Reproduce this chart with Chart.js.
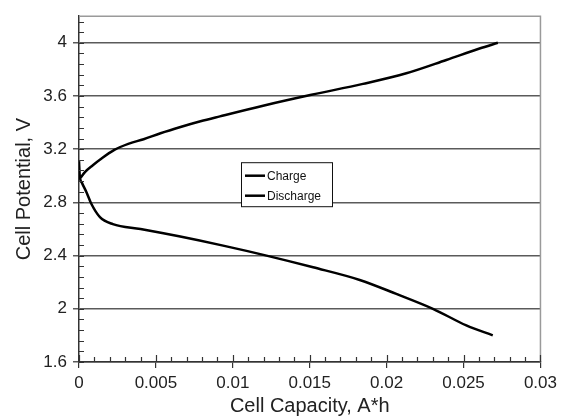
<!DOCTYPE html>
<html>
<head>
<meta charset="utf-8">
<script src="https://cdn.jsdelivr.net/npm/chart.js@4.4.1/dist/chart.umd.min.js"></script>
<style>
  html, body { margin: 0; padding: 0; background: #ffffff; }
  #wrap { width: 562px; height: 418px; }
</style>
</head>
<body>
<div id="wrap"><canvas id="cv" width="562" height="418"></canvas></div>
<script>
// Charge curve: capacity (A*h) and cell potential (V)
const chargeCapacity = [0.0001, 0.0004, 0.0009, 0.0014, 0.0023, 0.0032, 0.0042, 0.0053, 0.0066, 0.0079, 0.00916, 0.01197, 0.01511, 0.01846, 0.02128, 0.02388, 0.02604, 0.02723];
const chargeVoltage  = [2.985, 3.03, 3.08, 3.125, 3.195, 3.24, 3.275, 3.32, 3.367, 3.41, 3.447, 3.527, 3.609, 3.691, 3.771, 3.871, 3.957, 4.0];

// Discharge curve: capacity (A*h) and cell potential (V)
const dischargeCapacity = [0, 0.00005, 0.0002, 0.0005, 0.0008, 0.00136, 0.0022, 0.004, 0.0065, 0.00937, 0.01219, 0.01522, 0.01825, 0.02063, 0.02301, 0.02518, 0.0269];
const dischargeVoltage  = [3.11, 3.0, 2.945, 2.873, 2.79, 2.69, 2.637, 2.60, 2.545, 2.475, 2.40, 2.312, 2.217, 2.112, 2.0, 1.875, 1.80];

// Axis tick labels
const xTicks = [0, 0.005, 0.01, 0.015, 0.02, 0.025, 0.03];
const yTicks = [1.6, 2, 2.4, 2.8, 3.2, 3.6, 4];

const FONT = '"Liberation Sans", Arial, Helvetica, sans-serif';

function toPoints(xs, ys) {
  return xs.map((x, i) => ({ x: x, y: ys[i] }));
}

// Inner minor/major tick marks, top/right frame and the boxed legend
const framePlugin = {
  id: 'frame',
  afterDraw(chart) {
    const ctx = chart.ctx;
    const a = chart.chartArea;
    const xs = chart.scales.x;
    const ys = chart.scales.y;
    ctx.save();
    // light top and right frame
    ctx.strokeStyle = '#9a9a9a';
    ctx.lineWidth = 1.5;
    ctx.beginPath();
    ctx.moveTo(a.left, a.top);
    ctx.lineTo(a.right, a.top);
    ctx.lineTo(a.right, a.bottom);
    ctx.stroke();

    // minor ticks on the y axis every 0.08 V, pointing inward
    ctx.strokeStyle = '#333';
    ctx.lineWidth = 1.2;
    ctx.beginPath();
    for (let k = 0; k <= 32; k++) {
      const v = 1.6 + k * 0.08;
      const py = Math.round(ys.getPixelForValue(v)) + 0.5;
      ctx.moveTo(a.left, py);
      ctx.lineTo(a.left + 5, py);
    }
    // ticks on the x axis every 0.001, major ones a little longer
    for (let k = 0; k <= 30; k++) {
      const v = k * 0.001;
      const px = Math.round(xs.getPixelForValue(v)) + 0.5;
      ctx.moveTo(px, a.bottom);
      ctx.lineTo(px, a.bottom - (k % 5 === 0 ? 7 : 5));
    }
    ctx.stroke();

    // legend box
    const lx = a.left + 162, ly = a.top + 146, lw = 91, lh = 44;
    ctx.fillStyle = '#ffffff';
    ctx.fillRect(lx, ly, lw, lh);
    ctx.strokeStyle = '#111';
    ctx.lineWidth = 1;
    ctx.strokeRect(lx + 0.5, ly + 0.5, lw, lh);
    ctx.font = '12px ' + FONT;
    ctx.textBaseline = 'middle';
    ctx.textAlign = 'left';
    chart.data.datasets.forEach((ds, i) => {
      const ry = ly + 13.5 + i * 20;
      ctx.strokeStyle = ds.borderColor;
      ctx.lineWidth = 2.5;
      ctx.beginPath();
      ctx.moveTo(lx + 4, ry);
      ctx.lineTo(lx + 24, ry);
      ctx.stroke();
      ctx.fillStyle = '#111';
      ctx.fillText(ds.label, lx + 26, ry + 1);
    });
    ctx.restore();
  }
};

new Chart(document.getElementById('cv'), {
  type: 'scatter',
  data: {
    datasets: [
      {
        label: 'Charge',
        data: toPoints(chargeCapacity, chargeVoltage),
        showLine: true,
        borderColor: '#000000',
        borderWidth: 2.5,
        pointRadius: 0,
        cubicInterpolationMode: 'monotone'
      },
      {
        label: 'Discharge',
        data: toPoints(dischargeCapacity, dischargeVoltage),
        showLine: true,
        borderColor: '#000000',
        borderWidth: 2.5,
        pointRadius: 0,
        cubicInterpolationMode: 'monotone'
      }
    ]
  },
  options: {
    responsive: false,
    animation: false,
    layout: { padding: { top: 14, right: 21, left: 0, bottom: 0 } },
    plugins: {
      legend: { display: false },
      tooltip: { enabled: false }
    },
    scales: {
      x: {
        type: 'linear',
        min: 0,
        max: 0.03,
        afterFit(scale) { scale.height = 56; },
        afterBuildTicks(scale) { scale.ticks = xTicks.map(v => ({ value: v })); },
        border: { display: true, color: '#333', width: 1.5 },
        grid: { drawOnChartArea: false, drawTicks: true, tickLength: 6, color: '#333', lineWidth: 1.2 },
        ticks: {
          color: '#222',
          font: { family: FONT, size: 17 },
          padding: 5,
          maxRotation: 0,
          callback: v => String(Number(v.toFixed(4)))
        },
        title: {
          display: true,
          text: 'Cell Capacity, A*h',
          color: '#222',
          font: { family: FONT, size: 20, lineHeight: 1.15 },
          padding: { top: 0, bottom: 0 }
        }
      },
      y: {
        type: 'linear',
        min: 1.6,
        max: 4.2,
        afterFit(scale) { scale.width = 79; },
        afterBuildTicks(scale) { scale.ticks = yTicks.map(v => ({ value: v })); },
        border: { display: true, color: '#333', width: 1.5 },
        grid: { drawOnChartArea: true, drawTicks: true, tickLength: 6, color: '#5a5a5a', lineWidth: 1.5 },
        ticks: {
          color: '#222',
          font: { family: FONT, size: 17 },
          padding: 6,
          callback: v => String(Number(v.toFixed(2)))
        },
        title: {
          display: true,
          text: 'Cell Potential, V',
          color: '#222',
          font: { family: FONT, size: 20 },
          padding: { top: 12, bottom: 0 }
        }
      }
    }
  },
  plugins: [framePlugin]
});
</script>
</body>
</html>
